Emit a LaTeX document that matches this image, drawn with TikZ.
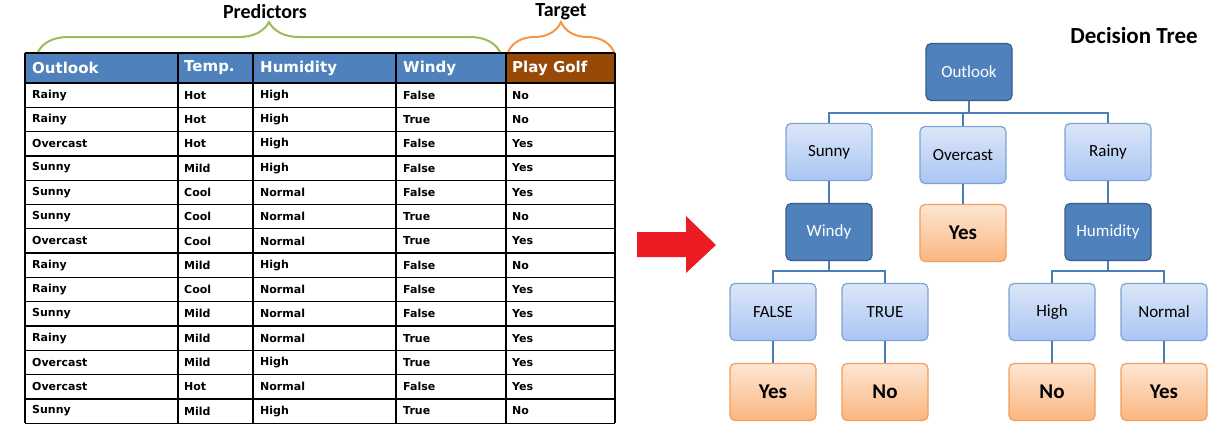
\documentclass[tikz,border=0pt]{standalone}
\usepackage{fontspec}
\setmainfont{Carlito}
\newfontfamily\tabfont{DejaVu Sans}
\usepackage{tikz}
\usetikzlibrary{positioning,decorations.pathreplacing}

\definecolor{darkblue}{HTML}{4F81BD}
\definecolor{darkblueline}{HTML}{385D8A}
\definecolor{lightblueA}{HTML}{DCE6F8}
\definecolor{lightblueB}{HTML}{A9C6F3}
\definecolor{lightblueline}{HTML}{7EA2D3}
\definecolor{orangeA}{HTML}{FDE6D3}
\definecolor{orangeB}{HTML}{FAB680}
\definecolor{orangeline}{HTML}{F59C58}
\definecolor{golfbrown}{HTML}{984807}
\definecolor{predgreen}{HTML}{9BBB59}
\definecolor{targetorange}{HTML}{F79646}
\definecolor{linkblue}{HTML}{4A7EBB}
\definecolor{arrowred}{HTML}{ED1C24}

\begin{document}
\begin{tikzpicture}[x=1pt,y=-1pt,node distance=80pt,
    treebox/.style={rounded corners=5pt,minimum width=86pt,minimum height=57pt,inner sep=2pt,line width=1.2pt},
    dec/.style={treebox,fill=darkblue,draw=darkblueline,text=white,font=\fontsize{17}{19}\selectfont},
    val/.style={treebox,top color=lightblueA,bottom color=lightblueB,draw=lightblueline,font=\fontsize{17}{19}\selectfont},
    res/.style={treebox,top color=orangeA,bottom color=orangeB,draw=orangeline,font=\bfseries\fontsize{21}{24}\selectfont},
    link/.style={linkblue,line width=1.5pt},
    grid/.style={line width=1.3pt},
    cell/.style={anchor=west,inner sep=0pt,font=\tabfont\bfseries\fontsize{11}{13}\selectfont},
    head/.style={cell,text=white,font=\tabfont\bfseries\fontsize{15}{17}\selectfont},
    brace/.style={decorate,decoration={brace,amplitude=30pt},line width=2pt},
    caption/.style={font=\bfseries\fontsize{20}{23}\selectfont}]
    \useasboundingbox (0,0) rectangle (1231,447);

    % table
    \fill[darkblue]  (25,53) rectangle (506,83);
    \fill[golfbrown] (506,53) rectangle (615,83);
    \node[head] (hout)  at (32,68)  {Outlook};
    \node[head] (htemp) at (184,68) {Temp.};
    \node[head] (hhum)  at (260,68) {Humidity};
    \node[head] (hwind) at (403,68) {Windy};
    \node[head] (hplay) at (512,68) {Play Golf};
    \foreach \o/\t/\h/\w/\p [count=\i] in {Rainy/Hot/High/False/No, Rainy/Hot/High/True/No,
        Overcast/Hot/High/False/Yes, Sunny/Mild/High/False/Yes, Sunny/Cool/Normal/False/Yes,
        Sunny/Cool/Normal/True/No, Overcast/Cool/Normal/True/Yes, Rainy/Mild/High/False/No,
        Rainy/Cool/Normal/False/Yes, Sunny/Mild/Normal/False/Yes, Rainy/Mild/Normal/True/Yes,
        Overcast/Mild/High/True/Yes, Overcast/Hot/Normal/False/Yes, Sunny/Mild/High/True/No} {
      \node[cell] (out\i)  at (32,70.85+24.3*\i)  {\o};
      \node[cell] (temp\i) at (184,70.85+24.3*\i) {\t};
      \node[cell] (hum\i)  at (260,70.85+24.3*\i) {\h};
      \node[cell] (wind\i) at (403,70.85+24.3*\i) {\w};
      \node[cell] (play\i) at (512,70.85+24.3*\i) {\p};
    }
    \draw[grid] (25,53) -- (615,53);
    \foreach \y in {0,...,14}
      \draw[grid] (25,83+24.3*\y) -- (615,83+24.3*\y);
    \foreach \x in {25,178,253,396,506,615}
      \draw[grid] (\x,53) -- (\x,423.2);

    % braces
    \draw[brace,predgreen]    (38,52) -- (500,52);
    \draw[brace,targetorange] (508,52) -- (614,52);
    \node[caption] (pred)   at (265,12) {Predictors};
    \node[caption] (target) at (561,12) {Target};

    % arrow
    \fill[arrowred] (637,232) -- (686,232) -- (686,216) -- (716,245) -- (686,273) -- (686,257) -- (637,257) -- cycle;

    % tree
    \node[caption,font=\bfseries\fontsize{23}{26}\selectfont] (title) at (1134,36) {Decision Tree};
    \node[dec] (outlook) at (969,72) {Outlook};
    \node[val] (sunny)    [below of=outlook, xshift=-140pt] {Sunny};
    \node[val] (overcast) [below of=outlook, xshift=-6pt, yshift=-3pt] {Overcast};
    \node[val] (rainy)    [below of=outlook, xshift=139pt] {Rainy};
    \node[dec] (windy)    [below of=sunny] {Windy};
    \node[res] (yesA)     [below of=overcast, yshift=2pt] {Yes};
    \node[dec] (humidity) [below of=rainy] {Humidity};
    \node[val] (false)    [below of=windy, xshift=-56pt] {FALSE};
    \node[val] (true)     [below of=windy, xshift=56pt] {TRUE};
    \node[val] (high)     [below of=humidity, xshift=-56pt] {High};
    \node[val] (normal)   [below of=humidity, xshift=56pt] {Normal};
    \node[res] (yesB)     [below of=false] {Yes};
    \node[res] (noA)      [below of=true] {No};
    \node[res] (noB)      [below of=high] {No};
    \node[res] (yesC)     [below of=normal] {Yes};

    \draw[link] (outlook.south) -- ++(0,12) -| (sunny.north);
    \draw[link] (outlook.south) -- ++(0,12) -| (overcast.north);
    \draw[link] (outlook.south) -- ++(0,12) -| (rainy.north);
    \draw[link] (windy.south) -- ++(0,10) -| (false.north);
    \draw[link] (windy.south) -- ++(0,10) -| (true.north);
    \draw[link] (humidity.south) -- ++(0,10) -| (high.north);
    \draw[link] (humidity.south) -- ++(0,10) -| (normal.north);
    \draw[link] (sunny) -- (windy);
    \draw[link] (overcast) -- (yesA);
    \draw[link] (rainy) -- (humidity);
    \draw[link] (false) -- (yesB);
    \draw[link] (true) -- (noA);
    \draw[link] (high) -- (noB);
    \draw[link] (normal) -- (yesC);
\end{tikzpicture}
\end{document}
